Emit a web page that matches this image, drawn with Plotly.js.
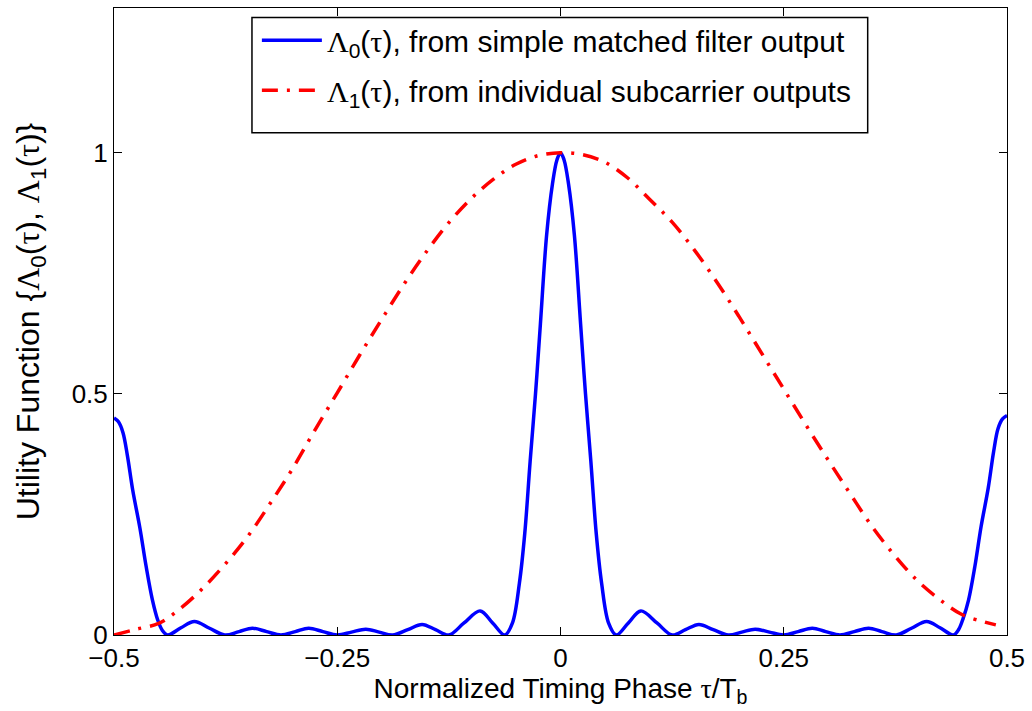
<!DOCTYPE html>
<html>
<head>
<meta charset="utf-8">
<script src="https://cdn.plot.ly/plotly-3.0.1.min.js"></script>
<style>html,body{margin:0;padding:0;background:#fff;}#chart{width:1032px;height:711px;}</style>
</head>
<body>
<div id="chart"></div>
<script>
// Lambda_0(tau): simple matched filter output
const tauBlue = [-0.500,-0.495,-0.490,-0.485,-0.479,-0.471,-0.464,-0.457,-0.451,-0.446,-0.440,
  -0.425,-0.410,-0.393,-0.376,-0.360,-0.345,-0.329,-0.313,-0.297,-0.282,-0.266,-0.250,
  -0.234,-0.218,-0.203,-0.188,-0.171,-0.155,-0.140,-0.125,-0.108,-0.090,-0.076,-0.0625,
  -0.054,-0.046,-0.040,-0.034,-0.028,-0.0225,-0.0155,-0.009,-0.004,0.000,
  0.004,0.009,0.0155,0.0225,0.028,0.034,0.040,0.046,0.054,0.0625,
  0.076,0.090,0.108,0.125,0.140,0.155,0.171,0.188,0.203,0.218,0.234,0.250,
  0.266,0.282,0.297,0.313,0.329,0.345,0.360,0.376,0.393,0.410,0.425,0.440,
  0.446,0.451,0.457,0.464,0.471,0.479,0.485,0.490,0.495,0.500];
const lambda0 = [0.450,0.442,0.420,0.372,0.300,0.222,0.142,0.073,0.031,0.010,0.000,
  0.015,0.028,0.014,0.000,0.007,0.014,0.007,0.000,0.007,0.014,0.007,0.000,
  0.006,0.012,0.006,0.000,0.011,0.022,0.011,0.000,0.025,0.050,0.025,0.000,
  0.024,0.108,0.211,0.360,0.500,0.645,0.830,0.935,0.985,1.000,
  0.985,0.935,0.830,0.645,0.500,0.360,0.211,0.108,0.024,0.000,
  0.025,0.050,0.025,0.000,0.011,0.022,0.011,0.000,0.006,0.012,0.006,0.000,
  0.007,0.014,0.007,0.000,0.007,0.014,0.007,0.000,0.014,0.028,0.015,0.000,
  0.012,0.035,0.073,0.142,0.225,0.305,0.380,0.428,0.448,0.455];

// Lambda_1(tau): from individual subcarrier outputs
const tauRed = [-0.500,-0.475,-0.450,-0.425,-0.400,-0.375,-0.350,-0.325,-0.300,-0.275,-0.250,
  -0.225,-0.200,-0.175,-0.150,-0.125,-0.100,-0.075,-0.050,-0.025,0.000,
  0.025,0.050,0.075,0.100,0.125,0.150,0.175,0.200,0.225,0.250,
  0.275,0.300,0.325,0.350,0.375,0.400,0.425,0.450,0.475,0.4875];
const lambda1 = [0.000,0.012,0.024,0.056,0.098,0.148,0.205,0.273,0.345,0.425,0.502,
  0.580,0.655,0.728,0.795,0.855,0.905,0.945,0.976,0.994,1.000,
  0.996,0.980,0.948,0.903,0.856,0.798,0.732,0.660,0.585,0.510,
  0.435,0.362,0.291,0.222,0.163,0.112,0.073,0.042,0.027,0.021];

const xTickVals = [-0.5,-0.25,0,0.25,0.5];
const xTickText = ['\u22120.5','\u22120.25','0','0.25','0.5'];
const yTickVals = [0,0.5,1];
const yTickText = ['0','0.5','1'];

const G = s => '<span style="font-family:\'Liberation Serif\',serif">' + s + '</span>';
const name0 = G('\u039B') + '<sub>0</sub>(' + G('\u03C4') + '), from simple matched filter output';
const name1 = G('\u039B') + '<sub>1</sub>(' + G('\u03C4') + '), from individual subcarrier outputs';

const FONT = 'Liberation Sans, Arial, Helvetica, sans-serif';

const traces = [
  {x: tauBlue, y: lambda0, type: 'scatter', mode: 'lines', name: name0, legendgroup: 'a',
   line: {color: '#0000ff', width: 3.5, shape: 'spline', smoothing: 1}},
  {x: tauRed, y: lambda1, type: 'scatter', mode: 'lines', name: name1, legendgroup: 'b',
   line: {color: '#ff0000', width: 3.5, dash: '16px,9px,3px,9px', shape: 'spline', smoothing: 1}}
];

const axisCommon = {
  showline: true, linecolor: '#000', linewidth: 1, mirror: 'ticks',
  ticks: 'inside', ticklen: 8, tickwidth: 1, tickcolor: '#000',
  showgrid: false, zeroline: false,
  tickfont: {family: FONT, size: 26, color: '#000'}
};

const layout = {
  width: 1032, height: 711,
  margin: {l: 114, r: 25, t: 8, b: 76},
  paper_bgcolor: '#fff', plot_bgcolor: '#fff',
  font: {family: FONT, color: '#000'},
  xaxis: Object.assign({}, axisCommon, {
    range: [-0.5, 0.5], tickvals: xTickVals, ticktext: xTickText, ticklabelstandoff: 0,
    title: {text: 'Normalized Timing Phase ' + G('\u03C4') + '/T<sub>b</sub>', font: {family: FONT, size: 28}, standoff: 0}
  }),
  yaxis: Object.assign({}, axisCommon, {
    range: [0, 1.3], tickvals: yTickVals, ticktext: yTickText,
    title: {text: 'Utility Function {' + G('\u039B') + '<sub>0</sub>(' + G('\u03C4') + '), ' + G('\u039B') + '<sub>1</sub>(' + G('\u03C4') + ')}', font: {family: FONT, size: 32}, standoff: 22}
  }),
  showlegend: true,
  legend: {x: 0.16, y: 0.99, xanchor: 'left', yanchor: 'top', bgcolor: 'rgba(0,0,0,0)', borderwidth: 0,
           itemwidth: 60, font: {family: FONT, size: 30, color: '#000'}, traceorder: 'grouped', tracegroupgap: 8},
  shapes: [{type: 'rect', xref: 'paper', yref: 'paper', x0: 0.1545, x1: 0.844, y0: 0.801, y1: 0.985,
            line: {color: '#000', width: 1.5}, fillcolor: 'rgba(0,0,0,0)', layer: 'below'}]
};

Plotly.newPlot('chart', traces, layout, {staticPlot: true, displayModeBar: false});
</script>
</body>
</html>
